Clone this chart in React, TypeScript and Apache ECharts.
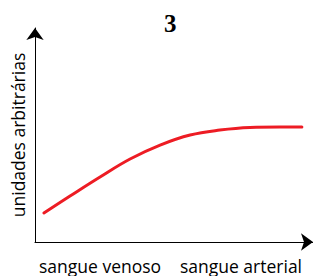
import React, { useEffect, useRef } from "react";
import * as echarts from "echarts";

const titleText = "3";
const yAxisName = "unidades arbitrárias";
const xLabels = ["sangue venoso", "sangue arterial"];
const xLabelPositions = [23.4, 74.1];
const curveX = [3.2, 12.6, 23.4, 34.2, 45.0, 55.8, 66.5, 77.3, 88.1, 96.0];
const curveY = [13.6, 21.5, 30.4, 38.8, 45.3, 50.0, 52.3, 53.5, 53.7, 53.7];

export default function App() {
  const ref = useRef<HTMLDivElement>(null);
  useEffect(() => {
    document.body.style.margin = "0";
    if (!ref.current) return;
    const chart = echarts.init(ref.current, null, { renderer: "svg" });
    const gridLeft = 35;
    const gridWidth = 278;
    chart.setOption({
      animation: false,
      backgroundColor: "#ffffff",
      title: {
        text: titleText,
        left: 159,
        top: 6,
        textStyle: {
          fontFamily: "Liberation Serif",
          fontWeight: "bold",
          fontSize: 25,
          color: "#000",
        },
      },
      grid: { left: gridLeft, right: 0, top: 28, bottom: 34 },
      xAxis: {
        type: "value",
        min: 0,
        max: 100,
        axisLine: {
          show: true,
          symbol: ["none", "arrow"],
          symbolSize: [13, 12],
          lineStyle: { color: "#000", width: 1 },
        },
        axisTick: { show: false },
        axisLabel: { show: false },
        splitLine: { show: false },
      },
      yAxis: {
        type: "value",
        min: 0,
        max: 100,
        name: yAxisName,
        nameLocation: "middle",
        nameRotate: 90,
        nameGap: 8,
        nameTextStyle: { fontFamily: "Open Sans", fontSize: 17.5, color: "#000" },
        axisLine: {
          show: true,
          symbol: ["none", "arrow"],
          symbolSize: [13, 12],
          lineStyle: { color: "#000", width: 1 },
        },
        axisTick: { show: false },
        axisLabel: { show: false },
        splitLine: { show: false },
      },
      graphic: xLabels.map((t, i) => ({
        type: "text",
        x: gridLeft + (xLabelPositions[i] / 100) * gridWidth,
        y: 266,
        style: {
          text: t,
          fontFamily: "Open Sans",
          fontSize: 17.5,
          fill: "#000",
          textAlign: "center",
          textVerticalAlign: "middle",
        },
      })),
      series: [
        {
          type: "line",
          data: curveX.map((x, i) => [x, curveY[i]]),
          smooth: 0.4,
          showSymbol: false,
          lineStyle: { color: "#ed1c24", width: 3, cap: "round" },
        },
      ],
    });
    return () => chart.dispose();
  }, []);
  return <div ref={ref} style={{ width: 313, height: 276 }} />;
}
